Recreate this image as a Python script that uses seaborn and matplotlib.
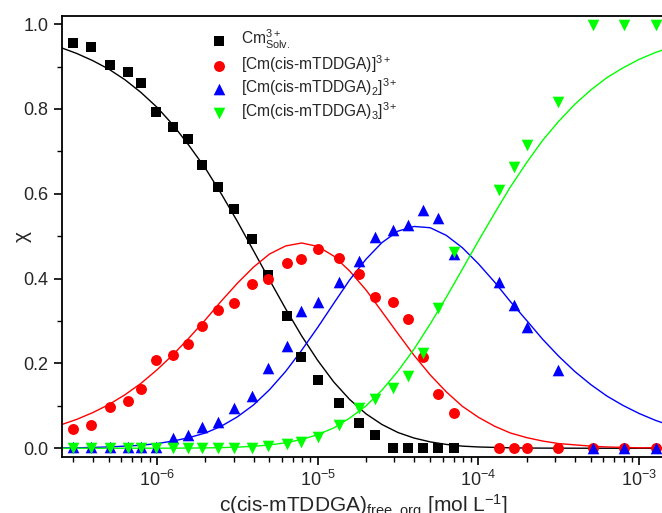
import numpy as np
import pandas as pd
import matplotlib
matplotlib.use("Agg")
import matplotlib.pyplot as plt
import seaborn as sns
from matplotlib.ticker import LogLocator, MultipleLocator, FormatStrFormatter

# measured points (free ligand concentration, mol/L)
conc = [3.0e-7, 3.9e-7, 5.1e-7, 6.6e-7, 8.0e-7, 9.9e-7, 1.25e-6, 1.55e-6, 1.9e-6,
        2.4e-6, 3.0e-6, 3.9e-6, 4.9e-6, 6.4e-6, 7.9e-6, 1.0e-5, 1.36e-5, 1.8e-5,
        2.27e-5, 2.96e-5, 3.64e-5, 4.5e-5, 5.6e-5, 7.0e-5, 1.35e-4, 1.66e-4,
        2.02e-4, 3.15e-4, 5.2e-4, 8.1e-4, 1.28e-3]

cm_solv = [0.955, 0.947, 0.904, 0.888, 0.861, 0.794, 0.758, 0.729, 0.667, 0.615,
           0.565, 0.494, 0.408, 0.312, 0.215, 0.160, 0.107, 0.060, 0.032, 0.0,
           0.0, 0.0, 0.0, 0.0]
cm_l1 = [0.045, 0.055, 0.097, 0.112, 0.140, 0.207, 0.220, 0.245, 0.289, 0.326,
         0.343, 0.387, 0.400, 0.438, 0.447, 0.471, 0.449, 0.411, 0.356, 0.345,
         0.304, 0.216, 0.129, 0.082, 0.0, 0.0, 0.0, 0.0, 0.0, 0.0, 0.0]
cm_l2 = [0.003, 0.003, 0.003, 0.003, 0.003, 0.003, 0.025, 0.031, 0.049, 0.061,
         0.095, 0.123, 0.190, 0.241, 0.323, 0.344, 0.391, 0.442, 0.497, 0.515,
         0.526, 0.562, 0.544, 0.458, 0.393, 0.337, 0.286, 0.184, 0.0, 0.0, 0.0]
cm_l3 = [0.0, 0.0, 0.0, 0.0, 0.0, 0.0, 0.0, 0.0, 0.0, 0.0, 0.0, 0.0, 0.005,
         0.009, 0.015, 0.027, 0.054, 0.094, 0.117, 0.141, 0.171, 0.224, 0.330,
         0.462, 0.609, 0.664, 0.715, 0.817, 0.998, 0.998, 0.998]

# fitted speciation curves
conc_fit = [2.51e-7, 3.16e-7, 3.98e-7, 5.01e-7, 6.31e-7, 7.94e-7, 1.0e-6, 1.26e-6,
            1.58e-6, 2.0e-6, 2.51e-6, 3.16e-6, 3.98e-6, 5.01e-6, 6.31e-6, 7.94e-6,
            1.0e-5, 1.26e-5, 1.58e-5, 2.0e-5, 2.51e-5, 3.16e-5, 3.98e-5, 5.01e-5,
            6.31e-5, 7.94e-5, 1.0e-4, 1.26e-4, 1.58e-4, 2.0e-4, 2.51e-4, 3.16e-4,
            3.98e-4, 5.01e-4, 6.31e-4, 7.94e-4, 1.0e-3, 1.26e-3, 1.58e-3]
fit_solv = [0.945, 0.931, 0.914, 0.894, 0.869, 0.839, 0.804, 0.762, 0.714, 0.660,
            0.600, 0.535, 0.466, 0.397, 0.329, 0.265, 0.207, 0.156, 0.115, 0.081,
            0.056, 0.037, 0.024, 0.015, 0.009, 0.005, 0.003, 0.002, 0.001, 0.0005,
            0.0003, 0.0002, 0.0001, 0.0, 0.0, 0.0, 0.0, 0.0, 0.0]
fit_l1 = [0.055, 0.068, 0.084, 0.103, 0.126, 0.153, 0.185, 0.221, 0.260, 0.303,
          0.347, 0.389, 0.427, 0.458, 0.477, 0.484, 0.476, 0.453, 0.418, 0.373,
          0.322, 0.270, 0.219, 0.173, 0.133, 0.099, 0.073, 0.052, 0.036, 0.025,
          0.017, 0.011, 0.008, 0.005, 0.003, 0.002, 0.001, 0.001, 0.001]
fit_l2 = [0.001, 0.001, 0.002, 0.003, 0.005, 0.007, 0.011, 0.017, 0.025, 0.036,
          0.052, 0.074, 0.102, 0.138, 0.181, 0.231, 0.285, 0.342, 0.397, 0.446,
          0.485, 0.512, 0.523, 0.520, 0.502, 0.473, 0.435, 0.392, 0.346, 0.301,
          0.257, 0.217, 0.181, 0.150, 0.123, 0.101, 0.082, 0.066, 0.053]
fit_l3 = [0.0, 0.0, 0.0, 0.0, 0.0, 0.0001, 0.0001, 0.0002, 0.0004, 0.0008,
          0.0015, 0.0026, 0.0046, 0.0078, 0.0128, 0.0206, 0.032, 0.048, 0.071,
          0.100, 0.137, 0.182, 0.234, 0.293, 0.356, 0.422, 0.489, 0.554, 0.616,
          0.674, 0.726, 0.771, 0.811, 0.845, 0.874, 0.897, 0.917, 0.933, 0.946]

labels = ["Cm$_{\\mathrm{Solv.}}^{3+}$",
          "[Cm(cis-mTDDGA)]$^{3+}$",
          "[Cm(cis-mTDDGA)$_2$]$^{3+}$",
          "[Cm(cis-mTDDGA)$_3$]$^{3+}$"]
colors = ["#000000", "#ff0000", "#0000ff", "#00ff00"]
markers = ["s", "o", "^", "v"]
sizes = [58, 62, 70, 70]

sns.set_style("ticks")
plt.rcParams["font.family"] = ["Liberation Sans", "DejaVu Sans"]
plt.rcParams["mathtext.fontset"] = "custom"
plt.rcParams["mathtext.rm"] = "Liberation Sans"
plt.rcParams["mathtext.it"] = "Liberation Sans:italic"
plt.rcParams["mathtext.bf"] = "Liberation Sans:bold"

fig = plt.figure(figsize=(6.62, 5.13), dpi=100)
ax = fig.add_axes([0.0932, 0.1097, 0.9128, 0.8597])

for fit, col in zip([fit_solv, fit_l1, fit_l2, fit_l3], colors):
    sns.lineplot(x=conc_fit, y=fit, color=col, linewidth=1.0, ax=ax,
                 estimator=None, sort=False, legend=False, zorder=2)

series = [cm_solv, cm_l1, cm_l2, cm_l3]
for i, (vals, col, mk, sz, lab) in enumerate(zip(series, colors, markers, sizes, labels)):
    sns.scatterplot(x=conc[:len(vals)], y=vals, color=col, marker=mk, s=sz,
                    linewidth=0, label=lab, ax=ax, zorder=3 + i)

ax.set_xscale("log")
ax.set_xlim(2.55e-7, 1.47e-3)
ax.set_ylim(-0.02, 1.02)

ax.xaxis.set_major_locator(LogLocator(base=10, numticks=10))
ax.xaxis.set_minor_locator(LogLocator(base=10, subs=np.arange(2, 10), numticks=20))
ax.yaxis.set_major_locator(MultipleLocator(0.2))
ax.yaxis.set_minor_locator(MultipleLocator(0.1))
ax.yaxis.set_major_formatter(FormatStrFormatter("%.1f"))

ax.tick_params(which="major", direction="out", length=6, width=1.2, labelsize=13,
               top=False, right=False, color="black")
ax.tick_params(which="minor", direction="out", length=3.5, width=1.0,
               top=False, right=False, color="black")
for sp in ax.spines.values():
    sp.set_linewidth(1.3)
    sp.set_color("black")

ax.set_xlabel("c(cis-mTDDGA)$_{\\mathrm{free\\_org}}$ [mol L$^{-1}$]", fontsize=15, labelpad=2)
ax.set_ylabel("χ", fontsize=15)
ax.yaxis.set_label_coords(-0.049, 0.5)

ax.legend(loc="upper left", bbox_to_anchor=(0.247, 0.972), frameon=False,
          fontsize=11.2, handlelength=1.0, handletextpad=0.9, labelspacing=0.12,
          borderpad=0, borderaxespad=0)

fig.savefig("out.png", dpi=100)
